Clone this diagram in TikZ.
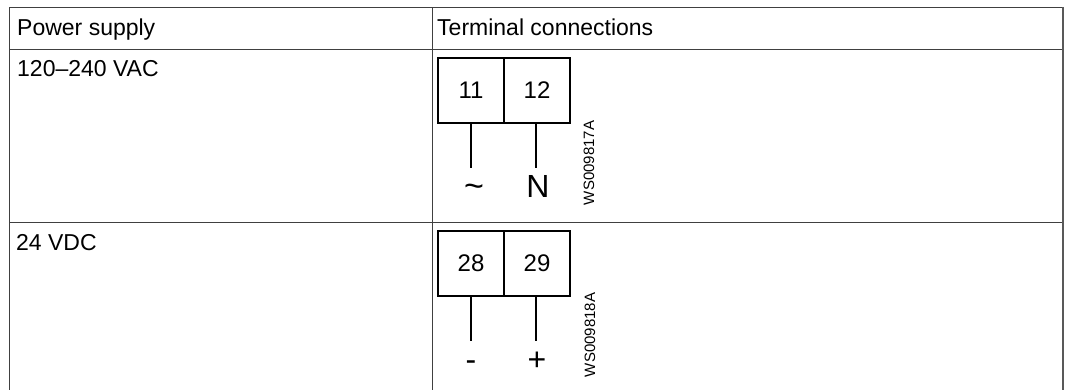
\documentclass[tikz,border=0pt]{standalone}
\usepackage{fontspec}
\setmainfont{Liberation Sans}
\begin{document}
\begin{tikzpicture}[x=1pt,y=-1pt,
  grid/.style={draw=black!75, line width=1pt},
  edge/.style={draw=black!65, line width=2pt},
  cell/.style={anchor=base west, inner sep=0pt, font=\fontsize{23}{27}\selectfont},
  term/.style={draw=black, line width=1.4pt, minimum width=66pt, minimum height=65pt, inner sep=0pt, font=\fontsize{24}{28}\selectfont},
  wire/.style={draw=black, line width=1.4pt},
  sig/.style={anchor=base, inner sep=0pt, font=\fontsize{32}{36}\selectfont},
  code/.style={rotate=90, inner sep=0pt, font=\fontsize{15}{18}\selectfont}]
\useasboundingbox (0,0) rectangle (1065,390);
\fill[white] (0,0) rectangle (1065,390);
% table
\draw[grid] (9,390) -- (9,8) -- (1063,8);
\draw[grid] (9,49.5) -- (1063,49.5);
\draw[grid] (9,222) -- (1063,222);
\draw[grid] (432,8) -- (432,390);
\draw[edge] (1063,7.5) -- (1063,390);
% texts
\node[cell] (h1) at (17,36) {Power supply};
\node[cell] (h2) at (437,36) {Terminal connections};
\node[cell] (r1) at (17,77) {120–240 VAC};
\node[cell] (r2) at (16,250) {24 VDC};
% row 1 terminals
\node[term] (t11) at (471,90.5) {11};
\node[term] (t12) at (537,90.5) {12};
\coordinate (w11) at (471,168);
\coordinate (w12) at (536,168);
\draw[wire] (t11.south) -- (w11);
\draw[wire] (t12.south -| w12) -- (w12);
\node[sig, font=\fontsize{34}{36}\selectfont] (s11) at (474,197) {\char"007E};
\node[sig] (s12) at (538,197) {N};
\node[code] (c1) at (589,163) {WS009817A};
% row 2 terminals
\node[term] (t28) at (471,263.5) {28};
\node[term] (t29) at (537,263.5) {29};
\coordinate (w28) at (471,341);
\coordinate (w29) at (536,341);
\draw[wire] (t28.south) -- (w28);
\draw[wire] (t29.south -| w29) -- (w29);
\node[sig] (s28) at (471,370) {-};
\node[sig] (s29) at (537,370) {+};
\node[code] (c2) at (590,335) {WS009818A};
\end{tikzpicture}
\end{document}
